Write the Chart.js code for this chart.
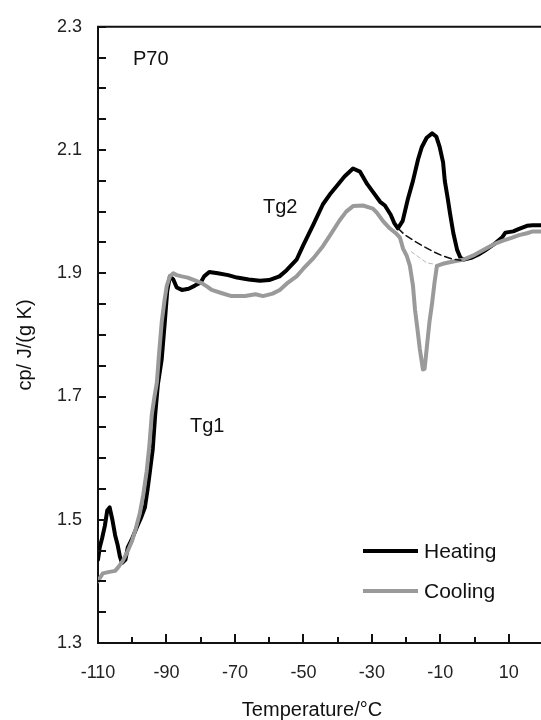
<!DOCTYPE html>
<html>
<head>
<meta charset="utf-8">
<script src="https://cdn.jsdelivr.net/npm/chart.js@4.4.1/dist/chart.umd.min.js"></script>
<style>
  html, body { margin: 0; padding: 0; background: #fff; }
  #wrap { width: 541px; height: 720px; }
</style>
</head>
<body>
<div id="wrap"><canvas id="chart" width="541" height="720"></canvas></div>
<script>
// heating curve (black)
const heatingT = [-110, -109.5, -108.8, -108, -107.3, -106.6, -105.8, -105, -104.3, -103.6, -103, -102, -101.3, -100, -98.5, -97.3, -96.3, -95.5, -94.8, -94, -93.3, -92.5, -91.4, -90.5, -89.8, -89, -88, -87, -85.5, -83.5, -81.7, -80, -79, -77.5, -75, -72, -69.4, -66, -62.7, -60, -57, -54.9, -52, -50.1, -47, -44.3, -42, -40.2, -38, -35.5, -33.5, -31.4, -29.7, -27.6, -26.2, -24.5, -23.5, -22.4, -21, -19.5, -18, -16.5, -15.4, -14, -12.4, -11.2, -10.2, -9.2, -8.7, -7.8, -7.2, -6.2, -5.1, -4.2, -3.4, -1, 1, 3, 5.4, 8, 9, 11.3, 13, 15.3, 17, 19.4];
const heatingCp = [1.435, 1.455, 1.47, 1.49, 1.515, 1.52, 1.50, 1.475, 1.46, 1.44, 1.43, 1.435, 1.455, 1.47, 1.49, 1.505, 1.52, 1.55, 1.58, 1.615, 1.67, 1.72, 1.76, 1.82, 1.87, 1.895, 1.89, 1.877, 1.873, 1.875, 1.88, 1.885, 1.895, 1.902, 1.90, 1.897, 1.893, 1.89, 1.888, 1.889, 1.895, 1.905, 1.922, 1.945, 1.98, 2.012, 2.03, 2.042, 2.057, 2.07, 2.065, 2.045, 2.032, 2.016, 2.01, 1.995, 1.982, 1.973, 1.985, 2.02, 2.05, 2.085, 2.105, 2.12, 2.127, 2.122, 2.105, 2.08, 2.05, 2.02, 1.998, 1.965, 1.938, 1.926, 1.922, 1.925, 1.93, 1.937, 1.946, 1.958, 1.966, 1.968, 1.972, 1.977, 1.978, 1.978];

// cooling curve (grey)
const coolingT = [-110, -109.5, -108.6, -107, -105, -103.8, -102.8, -101.5, -100.1, -99, -97.8, -96.8, -95.8, -95, -94.3, -93.5, -92.8, -92.2, -91.4, -90.6, -89.9, -89, -88, -87, -85.5, -83.8, -81.5, -79.7, -78, -76.8, -74, -71, -67, -64, -61.8, -59, -56.9, -54.5, -52, -50.1, -47, -44.3, -41.8, -39.4, -37.5, -35.5, -32.6, -29.7, -28.5, -26.8, -24.8, -23, -21.8, -20.9, -19.8, -18.9, -18, -17.4, -16.7, -16, -15.1, -14.6, -14, -13.2, -12.4, -11.7, -11, -9.5, -8, -5.5, -3.4, 0, 3.6, 6, 8.3, 11, 13, 15.3, 17, 19.4];
const coolingCp = [1.40, 1.405, 1.413, 1.415, 1.417, 1.425, 1.433, 1.447, 1.465, 1.485, 1.51, 1.54, 1.578, 1.62, 1.67, 1.70, 1.723, 1.767, 1.82, 1.855, 1.88, 1.895, 1.90, 1.897, 1.895, 1.893, 1.888, 1.884, 1.878, 1.873, 1.868, 1.863, 1.863, 1.866, 1.863, 1.867, 1.873, 1.885, 1.895, 1.907, 1.925, 1.944, 1.965, 1.986, 2.0, 2.009, 2.01, 2.005, 1.998, 1.985, 1.973, 1.965, 1.958, 1.94, 1.928, 1.912, 1.88, 1.841, 1.81, 1.777, 1.744, 1.745, 1.777, 1.82, 1.852, 1.885, 1.912, 1.915, 1.917, 1.92, 1.922, 1.93, 1.941, 1.948, 1.953, 1.958, 1.962, 1.965, 1.968, 1.968];

// dashed baselines under the peaks
const heatBaseT = [-22.4, -20.3, -17.5, -15, -12, -9.2, -6.5, -4];
const heatBaseCp = [1.973, 1.962, 1.952, 1.944, 1.935, 1.928, 1.923, 1.921];
const coolBaseT = [-18.5, -16, -14, -12];
const coolBaseCp = [1.935, 1.925, 1.917, 1.915];

// axes
const xMin = -110, xMax = 19.4, xStep = 10;
const xTickLabels = [-110, -90, -70, -50, -30, -10, 10];
const yMin = 1.3, yMax = 2.3, yStep = 0.05;
const yTickLabels = [1.3, 1.5, 1.7, 1.9, 2.1, 2.3];

const notes = [
  { text: 'P70', x: 133, y: 65 },
  { text: 'Tg2', x: 263, y: 213 },
  { text: 'Tg1', x: 190, y: 432 }
];

const FONT = "'Liberation Sans', Arial, Helvetica, sans-serif";

function pts(xs, ys) {
  return xs.map((x, i) => ({ x: x, y: ys[i] }));
}

const xTicksAll = [];
for (let v = xMin; v <= 10; v += xStep) xTicksAll.push(v);
const yTicksAll = [];
for (let i = 0; i <= Math.round((yMax - yMin) / yStep); i++) yTicksAll.push(Math.round((yMin + i * yStep) * 100) / 100);

// inward tick marks, top frame, texts and legend
const decor = {
  id: 'decor',
  afterDraw(chart) {
    const ctx = chart.ctx;
    const a = chart.chartArea;
    const xs = chart.scales.x, ys = chart.scales.y;
    ctx.save();
    ctx.strokeStyle = '#111';
    ctx.lineWidth = 2;
    ctx.beginPath();
    ctx.moveTo(a.left - 1, a.top);
    ctx.lineTo(a.right, a.top);
    xTicksAll.forEach(v => {
      const px = Math.round(xs.getPixelForValue(v));
      const len = xTickLabels.includes(v) ? 9 : 6;
      ctx.moveTo(px, a.bottom);
      ctx.lineTo(px, a.bottom - len);
    });
    yTicksAll.forEach(v => {
      const py = Math.round(ys.getPixelForValue(v));
      ctx.moveTo(a.left, py);
      ctx.lineTo(a.left + 8, py);
    });
    ctx.stroke();

    ctx.fillStyle = '#111';
    ctx.font = '20px ' + FONT;
    ctx.textAlign = 'left';
    ctx.textBaseline = 'alphabetic';
    notes.forEach(n => ctx.fillText(n.text, n.x, n.y));

    // axis titles
    ctx.font = '20px ' + FONT;
    ctx.textAlign = 'center';
    ctx.fillText('Temperature/°C', 312, 716);
    ctx.save();
    ctx.translate(25, 345);
    ctx.rotate(-Math.PI / 2);
    ctx.textBaseline = 'middle';
    ctx.fillText('cp/ J/(g K)', 0, 0);
    ctx.restore();

    // legend
    const items = [chart.data.datasets[0], chart.data.datasets[1]];
    items.forEach((ds, i) => {
      const y = 551 + i * 40;
      ctx.strokeStyle = ds.borderColor;
      ctx.lineWidth = 4;
      ctx.beginPath();
      ctx.moveTo(363, y);
      ctx.lineTo(418, y);
      ctx.stroke();
      ctx.fillStyle = '#111';
      ctx.font = '21px ' + FONT;
      ctx.textAlign = 'left';
      ctx.textBaseline = 'middle';
      ctx.fillText(ds.label, 424, y + 1);
    });
    ctx.restore();
  }
};

new Chart(document.getElementById('chart'), {
  type: 'line',
  data: {
    datasets: [
      {
        label: 'Heating',
        data: pts(heatingT, heatingCp),
        borderColor: '#000000',
        borderWidth: 4,
        order: 2
      },
      {
        label: 'Cooling',
        data: pts(coolingT, coolingCp),
        borderColor: '#9a9a9a',
        borderWidth: 4,
        order: 1
      },
      {
        label: 'heating baseline',
        data: pts(heatBaseT, heatBaseCp),
        borderColor: '#111111',
        borderWidth: 1.5,
        borderDash: [7, 4],
        order: 0
      },
      {
        label: 'cooling baseline',
        data: pts(coolBaseT, coolBaseCp),
        borderColor: '#b8b8b8',
        borderWidth: 1,
        borderDash: [4, 3],
        order: 0
      }
    ]
  },
  options: {
    responsive: false,
    animation: false,
    layout: { padding: { top: 22, right: 0, left: 0, bottom: 0 } },
    elements: {
      point: { radius: 0 },
      line: { tension: 0, fill: false, borderJoinStyle: 'round', borderCapStyle: 'round' }
    },
    plugins: {
      legend: { display: false },
      tooltip: { enabled: false }
    },
    scales: {
      x: {
        type: 'linear',
        min: xMin,
        max: xMax,
        afterFit(s) { s.height = 77; },
        afterBuildTicks(s) { s.ticks = xTicksAll.map(v => ({ value: v })); },
        grid: { display: true, drawOnChartArea: false, drawTicks: false },
        border: { display: true, color: '#111', width: 2 },
        ticks: {
          autoSkip: false,
          maxRotation: 0,
          padding: 19,
          color: '#222',
          font: { family: FONT, size: 18 },
          callback: v => xTickLabels.includes(v) ? String(v) : ''
        }
      },
      y: {
        type: 'linear',
        min: yMin,
        max: yMax,
        afterFit(s) { s.width = 98; },
        afterBuildTicks(s) { s.ticks = yTicksAll.map(v => ({ value: v })); },
        grid: { display: true, drawOnChartArea: false, drawTicks: false },
        border: { display: true, color: '#111', width: 2 },
        ticks: {
          autoSkip: false,
          padding: 16,
          color: '#222',
          font: { family: FONT, size: 18 },
          callback: v => yTickLabels.some(t => Math.abs(t - v) < 1e-6) ? v.toFixed(1) : ''
        }
      }
    }
  },
  plugins: [decor]
});
</script>
</body>
</html>
